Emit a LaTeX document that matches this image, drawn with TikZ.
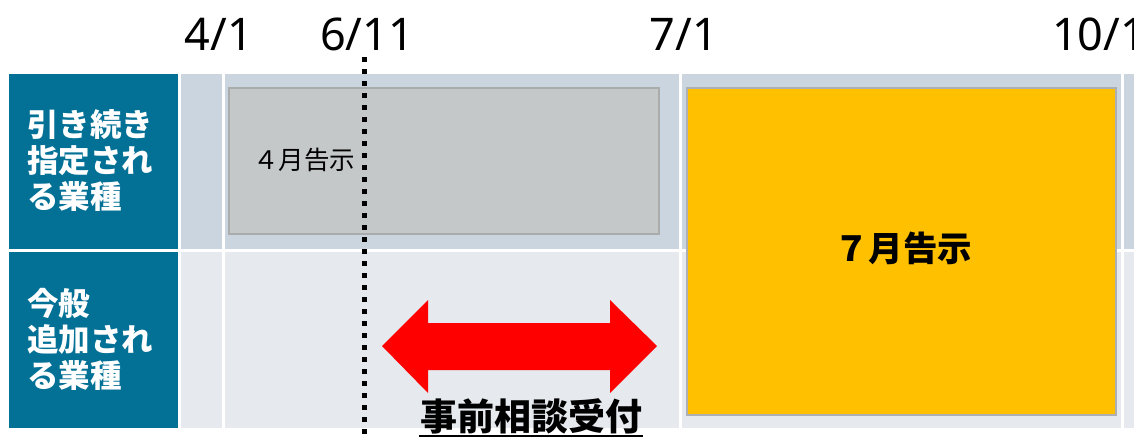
\documentclass[tikz,border=0pt]{standalone}
\usepackage{fontspec}
\newfontfamily\jp{Noto Sans CJK JP}
\newfontfamily\lat{Noto Sans}
\definecolor{hdrblue}{RGB}{3,112,150}
\definecolor{rowtop}{RGB}{203,213,223}
\definecolor{rowbot}{RGB}{230,233,238}
\definecolor{boxgray}{RGB}{197,200,200}
\definecolor{boxgrayedge}{RGB}{170,172,172}
\definecolor{boxyellow}{RGB}{255,192,0}
\definecolor{boxyellowedge}{RGB}{172,176,180}
\definecolor{arrowred}{RGB}{255,0,0}
\tikzset{
  cell/.style={draw=none, inner sep=0pt, anchor=north west},
  hdrcell/.style={cell, fill=hdrblue},
  hdrtext/.style={anchor=west, align=left, inner sep=0pt, text=white,
    font=\jp\bfseries\fontsize{31.5}{36}\selectfont},
  datelabel/.style={anchor=base, inner sep=0pt, font=\lat\fontsize{45}{50}\selectfont},
  period/.style={cell, line width=1.5pt},
}
\begin{document}
\begin{tikzpicture}[x=1pt, y=-1pt]
\useasboundingbox (0,0) rectangle (1134,440);
% date labels
\node[datelabel] (d41) at (219,50) {4/1};
\node[datelabel] (d611) at (367,50) {6/11};
\node[datelabel] (d71) at (684,50) {7/1};
\node[datelabel, anchor=base west] (d101) at (1052,50) {10/1};
% header cells
\node[hdrcell, minimum width=169pt, minimum height=175pt] (h1) at (9,74) {};
\node[hdrcell, minimum width=169pt, minimum height=176pt] (h2) at (9,252) {};
% top row cells
\node[cell, fill=rowtop, minimum width=41pt, minimum height=175pt] (t1) at (181,74) {};
\node[cell, fill=rowtop, minimum width=454pt, minimum height=175pt] (t2) at (225,74) {};
\node[cell, fill=rowtop, minimum width=439pt, minimum height=175pt] (t3) at (682,74) {};
\node[cell, fill=rowtop, minimum width=12pt, minimum height=175pt] (t4) at (1124,74) {};
% bottom row cells
\node[cell, fill=rowbot, minimum width=41pt, minimum height=176pt] (b1) at (181,252) {};
\node[cell, fill=rowbot, minimum width=454pt, minimum height=176pt] (b2) at (225,252) {};
\node[cell, fill=rowbot, minimum width=439pt, minimum height=176pt] (b3) at (682,252) {};
\node[cell, fill=rowbot, minimum width=12pt, minimum height=176pt] (b4) at (1124,252) {};
% header texts
\node[hdrtext] (ht1) at (27,161) {引き続き\\指定され\\る業種};
\node[hdrtext] (ht2) at (27,339) {今般\\追加され\\る業種};
% periods
\node[period, draw=boxgrayedge, fill=boxgray, minimum width=430pt, minimum height=146pt] (apr) at (228,87) {};
\node[anchor=west, inner sep=0pt, font=\jp\fontsize{25.5}{30}\selectfont] (aprt) at (253,160) {４月告示};
\node[period, draw=boxyellowedge, fill=boxyellow, minimum width=429pt, minimum height=327pt] (jul) at (686,87) {};
\node[inner sep=0pt, font=\jp\bfseries\fontsize{34.5}{40}\selectfont] (jult) at (903,248) {７月告示};
% dotted line at 6/11
\coordinate (dtop) at (364,57);
\coordinate (dbot) at (364,440);
\draw[line width=5pt, dash pattern=on 5pt off 7pt] (dtop) -- (dbot);
% red double arrow
\fill[arrowred] (382,346) -- (428,300) -- (428,323) -- (610,323) -- (610,300) -- (657,346)
  -- (610,393) -- (610,370) -- (428,370) -- (428,393) -- cycle;
% consultation label
\node[inner sep=0pt, font=\jp\bfseries\fontsize{37}{40}\selectfont] (cons) at (531,416) {事前相談受付};
\draw[line width=2.2pt] ([xshift=-1pt]cons.south west |- 0,436) -- ([xshift=1pt]cons.south east |- 0,436);
\end{tikzpicture}
\end{document}
